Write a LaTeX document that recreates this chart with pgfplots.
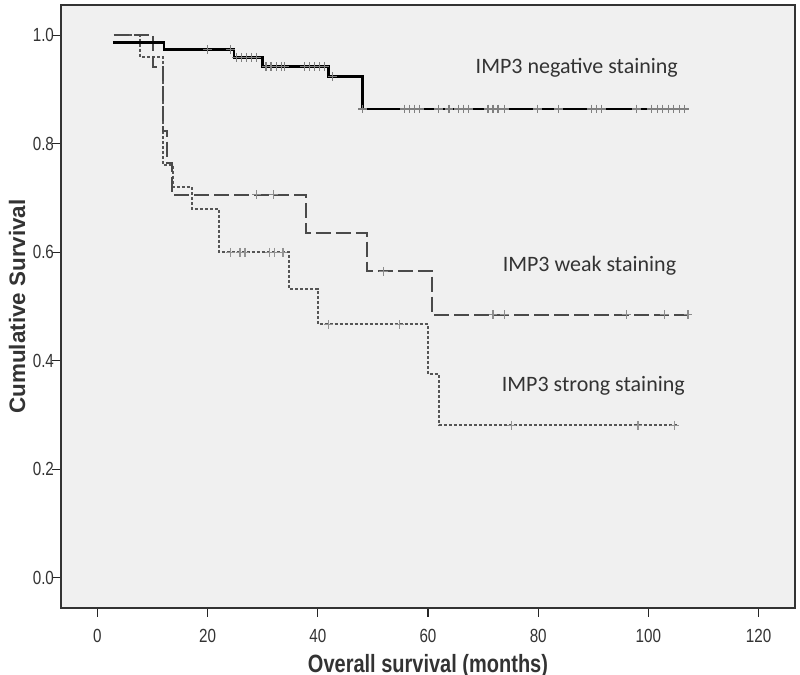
\documentclass[border=0pt]{standalone}
\usepackage{fontspec}
\setmainfont{Liberation Sans}
\newfontfamily\nsans{Liberation Sans}[FakeStretch=0.8]
\newfontfamily\calfont{Carlito}
\usepackage{pgfplots}
\pgfplotsset{compat=1.18}
\definecolor{plotbg}{HTML}{F0F0F0}
\definecolor{dashcol}{HTML}{4A4A4A}
\definecolor{dotcol}{HTML}{555555}
\definecolor{txtcol}{HTML}{333333}
\begin{document}
\begin{tikzpicture}
\begin{axis}[
  at={(0,0)}, anchor=south west,
  scale only axis, width=367pt, height=301.5pt,
  xmin=-6.6, xmax=126.6, ymin=-0.0555, ymax=1.0555,
  xtick={0,20,40,60,80,100,120},
  ytick={0,0.2,0.4,0.6,0.8,1.0},
  /pgf/number format/assume math mode=true,
  tick label style={font=\nsans\fontsize{9.5}{11}\selectfont, text=txtcol},
  xticklabel style={yshift=-2.5pt},
  yticklabel style={xshift=4.5pt, /pgf/number format/.cd, fixed, fixed zerofill, precision=1},
  tick align=outside, tick pos=left, major tick length=4.5pt,
  every tick/.style={gray!30!black, line width=0.6pt},
  axis line style={gray!40!black, line width=0.9pt},
  axis background/.style={fill=plotbg},
  xlabel={Overall survival (months)},
  ylabel={Cumulative Survival},
  xlabel style={font=\nsans\bfseries\fontsize{12.5}{15}\selectfont, text=txtcol, at={(rel axis cs:0.5,0)}, anchor=center, yshift=-29pt},
  ylabel style={font=\bfseries\fontsize{11.2}{13}\selectfont, text=txtcol, at={(rel axis cs:0,0.5)}, anchor=center, yshift=22pt},
]
% IMP3 strong staining (dotted)
\addplot[const plot, dotcol, line width=1pt, dash pattern=on 1.5pt off 1pt] coordinates {
 (3,1.0) (7.8,0.96) (11.9,0.76) (13.8,0.72) (17.1,0.68) (22.1,0.60) (34.8,0.533) (40.0,0.467) (60.0,0.375) (62.0,0.281) (105.3,0.281)};
% IMP3 weak staining (dashed)
\addplot[const plot, dashcol, line width=1pt, dash pattern=on 7.5pt off 2.5pt] coordinates {
 (3,1.0) (10.1,0.941) (11.9,0.824) (12.7,0.765) (13.6,0.706) (37.8,0.635) (49.0,0.565) (60.8,0.485) (107.8,0.485)};
% IMP3 negative staining (solid)
\addplot[const plot, black, line width=1.35pt] coordinates {
 (2.8,0.986) (12.1,0.973) (24.8,0.959) (30.0,0.942) (42.0,0.924) (48.1,0.864) (107.4,0.864)};
% censor marks
\addplot[only marks, mark=+, mark size=2.2pt, mark options={gray!85, line width=0.6pt}] coordinates {
 (24.1,0.60) (25.9,0.60) (26.8,0.60) (31.3,0.60) (32.2,0.60) (33.7,0.60)
 (41.9,0.467) (54.9,0.467)
 (75.2,0.281) (98.1,0.281) (104.8,0.281)};
\addplot[only marks, mark=+, mark size=2.2pt, mark options={gray!90, line width=0.6pt}] coordinates {
 (28.9,0.706) (31.9,0.706) (51.9,0.565)
 (71.8,0.485) (73.9,0.485) (96.0,0.485) (102.9,0.485) (107.2,0.485)};
\addplot[only marks, mark=+, mark size=2.2pt, mark options={gray, line width=0.6pt}] coordinates {
 (20.0,0.973) (24.1,0.973)
 (25.3,0.959) (26.2,0.959) (27.1,0.959) (28.0,0.959) (28.9,0.959)
 (30.6,0.942) (31.5,0.942) (32.5,0.942) (33.4,0.942) (34.0,0.942)
 (37.6,0.942) (38.5,0.942) (39.4,0.942) (40.3,0.942) (41.2,0.942)
 (42.7,0.924)
 (48.1,0.864) (55.7,0.864) (56.6,0.864) (57.5,0.864) (58.4,0.864)
 (61.9,0.864) (63.8,0.864) (65.6,0.864) (66.5,0.864) (67.4,0.864)
 (70.9,0.864) (71.8,0.864) (72.7,0.864) (73.9,0.864)
 (79.8,0.864) (83.7,0.864) (89.7,0.864) (90.6,0.864) (91.5,0.864)
 (97.8,0.864) (100.6,0.864) (101.6,0.864) (102.6,0.864) (103.6,0.864)
 (104.6,0.864) (105.6,0.864) (106.6,0.864)};
\node[font=\calfont\fontsize{11}{13}\selectfont, text=txtcol] at (axis cs:87.0,0.940) {IMP3 negative staining};
\node[font=\calfont\fontsize{11}{13}\selectfont, text=txtcol] at (axis cs:89.3,0.575) {IMP3 weak staining};
\node[font=\calfont\fontsize{11}{13}\selectfont, text=txtcol] at (axis cs:90.0,0.353) {IMP3 strong staining};
\end{axis}
\pgfresetboundingbox
\path[use as bounding box] (-30.5pt,-33.5pt) rectangle (369.5pt,304pt);
\end{tikzpicture}
\end{document}
